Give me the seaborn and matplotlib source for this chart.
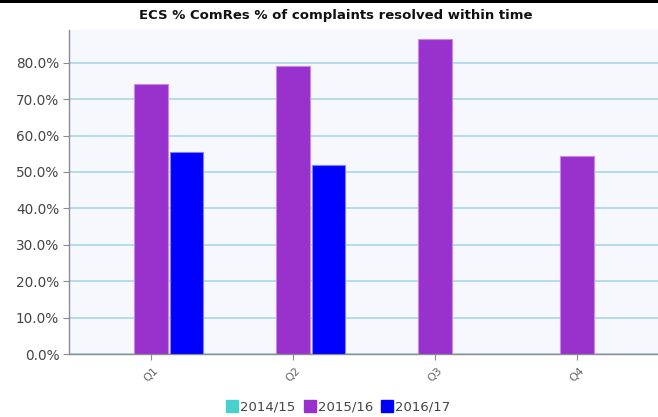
import numpy as np
import pandas as pd
import matplotlib
matplotlib.use("Agg")
import matplotlib.pyplot as plt
from matplotlib.lines import Line2D
from matplotlib.patches import Rectangle
from matplotlib.ticker import FuncFormatter, MultipleLocator
import seaborn as sns

# Quarterly share of complaints resolved within time (%)
quarters = ["Q1", "Q2", "Q3", "Q4"]
years = ["2014/15", "2015/16", "2016/17"]
values_2014_15 = [np.nan, np.nan, np.nan, np.nan]
values_2015_16 = [74.3, 79.0, 86.5, 54.3]
values_2016_17 = [55.5, 51.9, np.nan, np.nan]

colors = {"2014/15": "#48D1CC", "2015/16": "#9932CC", "2016/17": "#0000FF"}
edges = {"2014/15": "#A0ECE8", "2015/16": "#C68AE6", "2016/17": "#8080FF"}

df = pd.DataFrame({
    "quarter": quarters * 3,
    "year": [y for y in years for _ in quarters],
    "value": values_2014_15 + values_2015_16 + values_2016_17,
})

sns.set_theme(style="white")
plt.rcParams["font.family"] = ["DejaVu Sans"]

fig = plt.figure(figsize=(6.58, 4.17), dpi=100)
ax = fig.add_axes([69 / 658, 63 / 417, 1 - 69 / 658, 324 / 417])
ax.set_facecolor("#F7F8FE")

sns.barplot(data=df, x="quarter", y="value", hue="year", order=quarters,
            hue_order=years, palette=colors, saturation=1, width=0.75, gap=0.05,
            errorbar=None, legend=False, ax=ax, zorder=3)

# lighter outline around each bar, per series
for patch in ax.patches:
    fc = matplotlib.colors.to_hex(patch.get_facecolor()).lower()
    for yr, c in colors.items():
        if fc == c.lower():
            patch.set_edgecolor(edges[yr])
            patch.set_linewidth(0.8)

ax.set_xlim(-0.577, 3.57)
ax.set_ylim(0, 89.0)
ax.yaxis.set_major_locator(MultipleLocator(10))
ax.yaxis.set_major_formatter(FuncFormatter(lambda v, _: f"{v:.1f}%"))
ax.grid(axis="y", color="#B4DCEA", linewidth=1.4, zorder=0)
ax.set_axisbelow(True)

for side in ["top", "right"]:
    ax.spines[side].set_visible(False)
for side in ["left", "bottom"]:
    ax.spines[side].set_color("#8C8C8C")
    ax.spines[side].set_linewidth(1.0)

ax.tick_params(axis="y", which="major", left=True, length=4, width=0.8,
               color="#8C8C8C", labelsize=9.8, labelcolor="#444444", pad=3)
ax.tick_params(axis="x", which="major", bottom=True, length=4, width=0.8,
               color="#8C8C8C", labelsize=8, labelcolor="#666666", pad=4)
for lbl in ax.get_xticklabels():
    lbl.set_rotation(45)
    lbl.set_ha("center")
ax.set_xlabel("")
ax.set_ylabel("")

fig.text(336 / 658, 1 - 15 / 417, "ECS % ComRes % of complaints resolved within time",
         ha="center", va="center", fontsize=9.5, fontweight="bold", color="#111111")

# thin dark band along the top edge
fig.patches.append(Rectangle((0, 1 - 3 / 417), 1, 3 / 417, transform=fig.transFigure,
                             facecolor="black", edgecolor="none", zorder=10))

handles = [Line2D([], [], marker="s", linestyle="none", markersize=8,
                  markerfacecolor=colors[y], markeredgecolor=colors[y]) for y in years]
fig.legend(handles, years, loc="center", bbox_to_anchor=(338 / 658, 1 - 407 / 417),
           ncol=3, frameon=False, fontsize=9.5, handletextpad=0.1, columnspacing=0.6,
           handlelength=1.0, labelcolor="#444444")

fig.savefig("out.png", dpi=100)
